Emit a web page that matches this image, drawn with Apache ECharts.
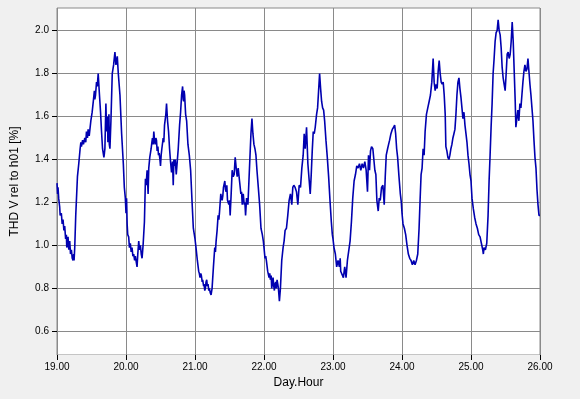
<!DOCTYPE html>
<html><head><meta charset="utf-8">
<script src="https://cdn.jsdelivr.net/npm/echarts@6/dist/echarts.min.js"></script>
<style>html,body{margin:0;padding:0;background:#f0f0f0}#c{width:580px;height:399px}</style>
</head><body><div id="c"></div>
<script>
// [hour of day, THD value %]
const d19 = [[0.0,1.29],[0.2,1.24],[0.35,1.27],[0.58,1.22],[0.93,1.18],[1.1,1.14],[1.51,1.15],[1.8,1.10],[2.1,1.12],[2.4,1.07],[2.68,1.09],[3.0,1.03],[3.26,1.05],[3.4,0.99],[3.84,1.04],[4.1,0.98],[4.43,1.02],[4.7,0.96],[5.01,0.98],[5.3,0.94],[5.59,0.93],[5.8,0.96],[5.94,0.93],[6.17,0.99],[6.52,1.14],[7.11,1.32],[7.57,1.38],[8.04,1.45],[8.3,1.48],[8.5,1.46],[8.9,1.49],[9.2,1.47],[9.67,1.50],[10.0,1.48],[10.25,1.53],[10.6,1.50],[10.83,1.54],[11.2,1.51],[11.77,1.58],[12.23,1.62],[12.7,1.68],[13.0,1.72],[13.16,1.68],[13.4,1.70],[13.75,1.76],[14.0,1.74],[14.33,1.80],[14.68,1.72],[15.15,1.62],[15.49,1.53],[15.84,1.45],[16.31,1.41],[16.5,1.43],[16.66,1.45],[17.01,1.66],[17.24,1.53],[17.59,1.60],[17.7,1.48],[18.06,1.61],[18.2,1.47],[18.41,1.45],[18.76,1.58],[19.22,1.80],[19.69,1.84],[20.15,1.90],[20.5,1.84],[20.97,1.88],[21.32,1.80],[21.9,1.70],[22.48,1.52],[23.07,1.38],[23.42,1.27],[23.77,1.22],[24.0,1.15]];
const d20 = [[0.0,1.18],[0.2,1.22],[0.4,1.10],[0.6,1.05],[0.93,1.04],[1.2,0.99],[1.51,1.01],[1.8,0.97],[2.1,0.99],[2.4,0.95],[2.68,0.96],[3.0,0.93],[3.26,0.95],[3.6,0.92],[3.84,0.90],[4.1,0.96],[4.43,1.02],[4.7,0.98],[5.01,1.00],[5.3,0.96],[5.59,0.94],[5.94,1.00],[6.41,1.11],[6.76,1.31],[7.0,1.28],[7.34,1.35],[7.69,1.24],[7.92,1.36],[8.27,1.41],[8.74,1.45],[9.0,1.48],[9.2,1.50],[9.44,1.47],[9.67,1.53],[10.0,1.48],[10.14,1.47],[10.4,1.50],[10.6,1.49],[10.83,1.44],[11.1,1.46],[11.3,1.42],[11.53,1.43],[11.8,1.40],[12.0,1.37],[12.23,1.42],[12.47,1.45],[12.93,1.50],[13.16,1.48],[13.4,1.56],[13.86,1.61],[14.1,1.66],[14.45,1.58],[14.8,1.53],[15.15,1.45],[15.49,1.39],[15.84,1.34],[16.19,1.39],[16.43,1.28],[16.66,1.40],[16.9,1.37],[17.13,1.40],[17.48,1.33],[17.82,1.39],[18.17,1.45],[18.64,1.56],[18.99,1.62],[19.34,1.70],[19.69,1.74],[19.9,1.68],[20.04,1.67],[20.2,1.72],[20.39,1.70],[20.74,1.61],[21.09,1.58],[21.55,1.47],[22.02,1.42],[22.48,1.35],[22.95,1.21],[23.42,1.08],[23.77,1.05],[24.0,1.03]];
const d21 = [[0.35,0.99],[0.82,0.93],[1.28,0.88],[1.5,0.87],[1.75,0.85],[2.0,0.87],[2.21,0.86],[2.5,0.83],[2.68,0.84],[3.0,0.81],[3.15,0.82],[3.4,0.79],[3.61,0.80],[3.84,0.83],[4.08,0.84],[4.3,0.81],[4.54,0.82],[4.8,0.79],[5.01,0.80],[5.3,0.78],[5.59,0.77],[5.94,0.80],[6.41,0.90],[6.87,0.99],[7.11,0.97],[7.34,1.02],[7.69,1.07],[8.04,1.14],[8.3,1.12],[8.5,1.15],[8.97,1.24],[9.2,1.22],[9.44,1.21],[9.67,1.23],[9.9,1.27],[10.37,1.30],[10.6,1.26],[10.83,1.25],[11.07,1.28],[11.3,1.21],[11.77,1.19],[12.0,1.21],[12.23,1.14],[12.58,1.24],[12.93,1.35],[13.28,1.32],[13.63,1.33],[13.98,1.41],[14.33,1.36],[14.68,1.32],[15.03,1.36],[15.49,1.30],[15.96,1.24],[16.2,1.25],[16.43,1.19],[16.78,1.24],[17.13,1.19],[17.36,1.20],[17.59,1.14],[17.94,1.22],[18.41,1.19],[18.76,1.30],[19.11,1.41],[19.46,1.52],[19.81,1.59],[20.0,1.55],[20.15,1.52],[20.5,1.47],[20.85,1.45],[21.2,1.42],[21.55,1.35],[22.02,1.27],[22.48,1.19],[22.95,1.08],[23.42,1.05],[23.77,1.02],[24.0,0.99]];
const d22 = [[0.35,0.94],[0.6,0.95],[0.82,0.93],[1.28,0.88],[1.75,0.85],[2.0,0.87],[2.21,0.84],[2.5,0.86],[2.68,0.80],[3.0,0.83],[3.15,0.85],[3.4,0.81],[3.61,0.79],[3.84,0.82],[4.08,0.83],[4.3,0.80],[4.54,0.84],[4.8,0.82],[5.01,0.80],[5.36,0.74],[5.71,0.80],[6.17,0.93],[6.64,0.99],[6.99,1.02],[7.34,1.07],[7.81,1.08],[8.27,1.14],[8.74,1.21],[9.2,1.24],[9.67,1.19],[10.02,1.27],[10.37,1.28],[10.83,1.27],[11.3,1.25],[11.77,1.19],[12.23,1.28],[12.7,1.27],[13.16,1.36],[13.63,1.42],[13.98,1.52],[14.33,1.45],[14.8,1.55],[15.26,1.38],[15.73,1.30],[16.08,1.24],[16.43,1.33],[16.78,1.44],[17.13,1.53],[17.48,1.52],[17.82,1.55],[18.29,1.61],[18.64,1.64],[18.99,1.72],[19.34,1.80],[19.69,1.73],[20.04,1.67],[20.39,1.64],[20.74,1.63],[21.09,1.58],[21.55,1.49],[22.02,1.41],[22.48,1.32],[22.95,1.21],[23.42,1.11],[23.77,1.05],[24.0,1.03]];
const d23 = [[0.35,0.99],[0.82,0.96],[1.28,0.90],[1.75,0.93],[2.21,0.90],[2.5,0.94],[2.68,0.88],[3.15,0.88],[3.61,0.85],[4.08,0.90],[4.54,0.85],[5.01,0.93],[5.48,0.93],[5.94,1.02],[6.41,1.11],[6.87,1.22],[7.34,1.30],[7.81,1.33],[8.27,1.37],[8.74,1.36],[9.2,1.38],[9.67,1.35],[10.14,1.38],[10.6,1.36],[11.07,1.39],[11.53,1.35],[12.0,1.25],[12.35,1.42],[12.7,1.35],[13.05,1.44],[13.4,1.46],[13.86,1.45],[14.21,1.40],[14.56,1.35],[14.91,1.33],[15.26,1.21],[15.73,1.16],[16.08,1.22],[16.43,1.21],[16.89,1.27],[17.36,1.28],[17.82,1.19],[18.17,1.32],[18.52,1.42],[18.99,1.45],[19.34,1.47],[19.69,1.49],[20.15,1.52],[20.62,1.54],[21.09,1.55],[21.44,1.56],[21.79,1.52],[22.14,1.45],[22.48,1.41],[22.95,1.32],[23.42,1.24],[23.77,1.20],[24.0,1.15]];
const d24 = [[0.35,1.10],[0.82,1.08],[1.28,1.05],[1.75,1.00],[2.21,0.96],[2.68,0.94],[3.15,0.93],[3.61,0.91],[4.08,0.93],[4.54,0.91],[5.01,0.93],[5.48,0.96],[5.94,1.08],[6.29,1.21],[6.64,1.33],[6.99,1.36],[7.34,1.45],[7.69,1.42],[8.04,1.53],[8.5,1.61],[8.97,1.64],[9.44,1.67],[9.9,1.70],[10.37,1.76],[10.83,1.87],[11.18,1.76],[11.53,1.72],[11.88,1.75],[12.23,1.73],[12.58,1.81],[12.93,1.86],[13.28,1.80],[13.63,1.76],[13.98,1.75],[14.33,1.76],[14.68,1.70],[15.03,1.61],[15.26,1.46],[15.61,1.44],[15.96,1.41],[16.31,1.40],[16.66,1.42],[17.01,1.45],[17.36,1.47],[17.71,1.50],[18.06,1.52],[18.41,1.54],[18.76,1.61],[19.11,1.70],[19.46,1.76],[19.81,1.78],[20.15,1.73],[20.5,1.69],[20.85,1.64],[21.2,1.59],[21.55,1.62],[21.9,1.56],[22.25,1.52],[22.6,1.48],[22.95,1.42],[23.3,1.38],[23.65,1.33],[24.0,1.30]];
const d25 = [[0.35,1.22],[0.82,1.17],[1.28,1.13],[1.75,1.10],[2.21,1.08],[2.68,1.05],[3.15,1.04],[3.61,1.01],[4.08,0.98],[4.3,0.96],[4.54,0.99],[5.01,0.98],[5.48,1.01],[5.94,1.14],[6.29,1.30],[6.64,1.42],[6.99,1.55],[7.34,1.66],[7.69,1.80],[8.04,1.87],[8.39,1.95],[8.74,1.99],[9.09,2.00],[9.44,2.05],[9.79,2.00],[10.14,1.98],[10.49,1.92],[10.83,1.83],[11.18,1.78],[11.53,1.75],[11.88,1.72],[12.23,1.80],[12.58,1.89],[12.93,1.90],[13.28,1.87],[13.63,1.89],[13.98,1.95],[14.33,2.04],[14.68,1.95],[15.03,1.81],[15.38,1.67],[15.61,1.55],[15.96,1.59],[16.31,1.63],[16.66,1.58],[17.01,1.66],[17.36,1.64],[17.71,1.70],[18.06,1.76],[18.41,1.81],[18.76,1.84],[19.11,1.81],[19.46,1.82],[19.81,1.87],[20.15,1.81],[20.5,1.75],[20.85,1.70],[21.2,1.64],[21.55,1.58],[21.9,1.49],[22.25,1.41],[22.6,1.36],[22.95,1.26],[23.3,1.19],[23.65,1.14],[24.0,1.14]];

const days = [19, 20, 21, 22, 23, 24, 25];
const dayData = [d19, d20, d21, d22, d23, d24, d25];
const yTicks = [0.6, 0.8, 1.0, 1.2, 1.4, 1.6, 1.8, 2.0];
const xName = 'Day.Hour';
const yName = 'THD V rel to h01 [%]';

const seriesData = [];
days.forEach((d, i) => dayData[i].forEach(p => seriesData.push([d + p[0] / 24, p[1]])));

const chart = echarts.init(document.getElementById('c'), null, {renderer: 'canvas'});
const font = 'Liberation Sans, Arial, sans-serif';
chart.setOption({
  animation: false,
  backgroundColor: '#f0f0f0',
  grid: {left: 57, right: 40, top: 8, bottom: 44, show: true, backgroundColor: '#ffffff', borderColor: '#8a8a8a', borderWidth: 1},
  xAxis: {
    type: 'value', min: 19, max: 26, interval: 1,
    name: xName, nameLocation: 'middle', nameGap: 22,
    nameTextStyle: {fontFamily: font, fontSize: 12, color: '#000'},
    axisLine: {show: true, lineStyle: {color: '#f0f0f0', width: 1}},
    axisTick: {show: true, length: 5, inside: false, lineStyle: {color: '#000'}},
    axisLabel: {margin: 7, fontFamily: font, fontSize: 10, color: '#000', formatter: v => v.toFixed(2)},
    splitLine: {show: true, lineStyle: {color: '#8a8a8a', width: 1}}
  },
  yAxis: {
    type: 'value', min: 0.49, max: 2.105,
    name: yName, nameLocation: 'middle', nameGap: 36,
    nameTextStyle: {fontFamily: font, fontSize: 12, color: '#000'},
    axisLine: {show: false},
    axisTick: {show: true, length: 5, lineStyle: {color: '#000'}, customValues: yTicks},
    axisLabel: {margin: 8, fontFamily: font, fontSize: 10, color: '#000', customValues: yTicks, formatter: v => v.toFixed(1)},
    splitLine: {show: true, lineStyle: {color: '#8a8a8a', width: 1}}
  },
  series: [{
    type: 'line', data: seriesData, showSymbol: false, symbol: 'none',
    lineStyle: {color: '#0000b0', width: 1.6}, clip: true
  }]
});
</script></body></html>
